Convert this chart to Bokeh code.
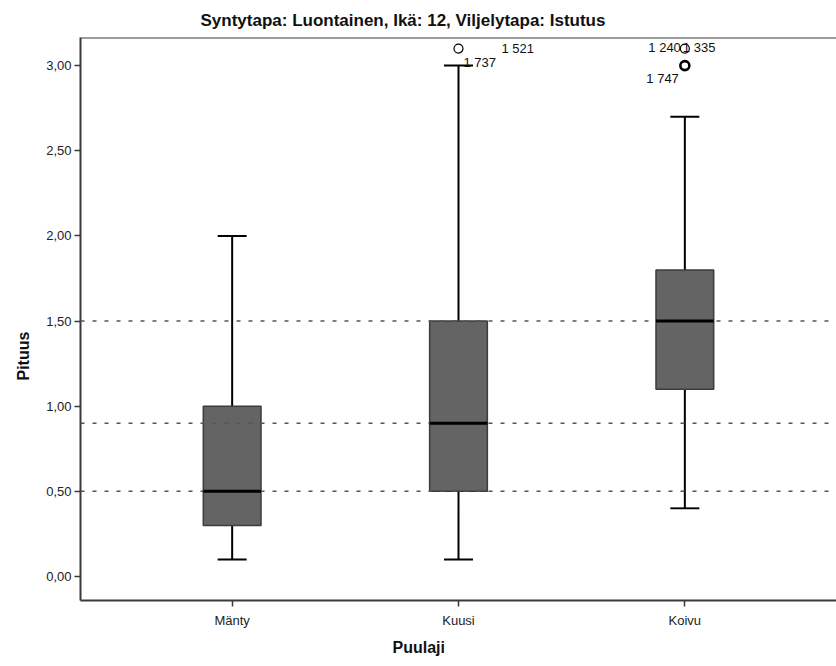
from collections import Counter
from bokeh.plotting import figure
from bokeh.models import (FactorRange, Range1d, Span, Title, CustomJSTickFormatter,
                          FixedTicker, ColumnDataSource)
from bokeh.embed import file_html
from bokeh.resources import INLINE

# ---------------- data ----------------
title_text = "Syntytapa: Luontainen, Ikä: 12, Viljelytapa: Istutus"
x_title = "Puulaji"
y_title = "Pituus"

species = ["Mänty", "Kuusi", "Koivu"]
whisker_low = [0.10, 0.10, 0.40]
q1 = [0.30, 0.50, 1.10]
median = [0.50, 0.90, 1.50]
q3 = [1.00, 1.50, 1.80]
whisker_high = [2.00, 3.00, 2.70]

outlier_species = ["Kuusi", "Koivu", "Koivu", "Koivu"]
outlier_values = [3.10, 3.10, 3.00, 3.00]

case_species = ["Kuusi", "Kuusi", "Koivu", "Koivu", "Koivu"]
case_values = [3.10, 3.00, 3.10, 3.10, 3.00]
case_ids = ["1 521", "1 737", "1 240", "1 335", "1 747"]

reference_values = [1.50, 0.90, 0.50]
y_ticks = [0.0, 0.5, 1.0, 1.5, 2.0, 2.5, 3.0]

# ---------------- styles ----------------
FONT = "Liberation Sans"
AXIS_COLOR = "#3a3a3a"
BOX_FILL = "#646464"
BOX_LINE = "#3c3c3c"
BOX_W = 0.255
Y_START, Y_END = -0.141, 3.165
case_dx = [43, 5, -4, -2, -6]
case_dy = [0, -3, -1, -1, 13]
case_align = ["left", "left", "right", "left", "right"]

p = figure(width=836, height=666, output_backend="svg", toolbar_location=None,
           x_range=FactorRange(factors=species, range_padding=0.17,
                               range_padding_units="absolute"),
           y_range=Range1d(Y_START, Y_END),
           min_border_left=80, min_border_right=0, min_border_top=37,
           min_border_bottom=66)
p.outline_line_color = None
p.grid.visible = False
p.background_fill_color = "white"
p.border_fill_color = "white"

p.title.text = title_text
p.title.text_font = FONT
p.title.text_font_size = "17px"
p.title.text_font_style = "bold"
p.title.align = "left"
p.title.offset = 120
p.title.standoff = 16
p.title.text_color = "#111111"

# axes
for ax in (p.xaxis[0], p.yaxis[0]):
    ax.axis_line_color = AXIS_COLOR
    ax.axis_line_width = 2
    ax.major_tick_line_color = AXIS_COLOR
    ax.major_tick_line_width = 1.5
    ax.major_tick_in = 0
    ax.major_tick_out = 6
    ax.minor_tick_line_color = None
    ax.major_label_text_font = FONT
    ax.major_label_text_font_size = "13px"
    ax.major_label_text_color = "#222222"
p.xaxis.major_label_standoff = 6
p.yaxis.major_label_standoff = 3
p.yaxis.ticker = FixedTicker(ticks=y_ticks)
p.yaxis.formatter = CustomJSTickFormatter(code="return tick.toFixed(2).replace('.', ',');")

# axis titles
p.add_layout(Title(text=y_title, align="left", offset=220, standoff=24,
                   text_font=FONT, text_font_size="16px", text_font_style="bold",
                   text_color="#111111"), "left")
p.add_layout(Title(text=x_title, align="left", offset=312, standoff=12,
                   text_font=FONT, text_font_size="16px", text_font_style="bold",
                   text_color="#111111"), "below")

# top border
p.add_layout(Span(location=Y_END, dimension="width", line_color=AXIS_COLOR, line_width=2))

# whiskers
p.segment(x0=species, y0=q3, x1=species, y1=whisker_high, line_color="black", line_width=2)
p.segment(x0=species, y0=q1, x1=species, y1=whisker_low, line_color="black", line_width=2)
p.scatter(x=species, y=whisker_high, marker="dash", size=29, line_color="black", line_width=2)
p.scatter(x=species, y=whisker_low, marker="dash", size=29, line_color="black", line_width=2)

# boxes
p.vbar(x=species, width=BOX_W, bottom=q1, top=q3, fill_color=BOX_FILL,
       line_color=BOX_LINE, line_width=1.5)

# reference lines
for v in reference_values:
    p.add_layout(Span(location=v, dimension="width", line_color="#555555",
                      line_width=1.5, line_dash="4 8"))

# medians drawn above the reference lines
p.segment(x0=[(s, -BOX_W / 2) for s in species], y0=median,
          x1=[(s, BOX_W / 2) for s in species], y1=median,
          line_color="black", line_width=3, level="overlay")

# outliers (coinciding cases drawn heavier)
counts = Counter(zip(outlier_species, outlier_values))
pts = sorted(counts.keys(), key=lambda k: (species.index(k[0]), k[1]))
p.scatter(x=[k[0] for k in pts], y=[k[1] for k in pts], marker="circle", size=9,
          fill_color=None, line_color="black",
          line_width=[1.2 if counts[k] == 1 else 2.6 for k in pts])

# case labels
src = ColumnDataSource(dict(x=case_species, y=case_values, t=case_ids,
                            dx=case_dx, dy=case_dy, al=case_align))
p.text(x="x", y="y", text="t", x_offset="dx", y_offset="dy", text_align="al",
       text_baseline="middle", text_font_size="13px", text_color="#111111",
       source=src, text_font={"value": FONT})

open("out.html", "w").write(file_html(p, INLINE))
